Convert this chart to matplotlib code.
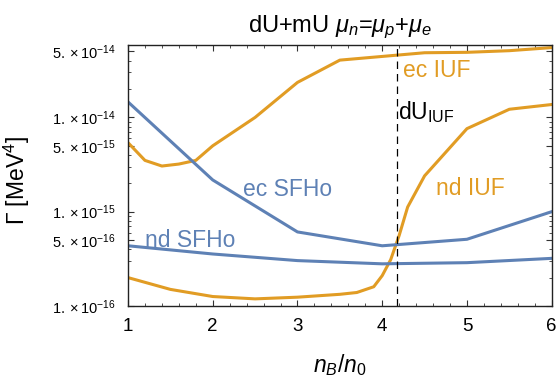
import matplotlib
matplotlib.use("Agg")
import matplotlib.pyplot as plt
import matplotlib.ticker as mticker

plt.rcParams["font.family"] = ["Liberation Sans", "DejaVu Sans"]
plt.rcParams["mathtext.fontset"] = "custom"
plt.rcParams["mathtext.rm"] = "Liberation Sans"
plt.rcParams["mathtext.it"] = "Liberation Sans:italic"
plt.rcParams["mathtext.bf"] = "Liberation Sans:bold"

BLUE = "#5E81B5"
ORANGE = "#E19C24"

# ec IUF
ec_iuf_x = [1, 1.2, 1.4, 1.6, 1.8, 2, 2.5, 3, 3.5, 4.5, 5, 5.5, 6]
ec_iuf_y = [5.4e-15, 3.5e-15, 3.05e-15, 3.2e-15, 3.5e-15, 5.0e-15, 1.0e-14,
            2.35e-14, 4.05e-14, 4.85e-14, 4.9e-14, 5.1e-14, 5.5e-14]
# nd IUF
nd_iuf_x = [1, 1.5, 2, 2.5, 3, 3.5, 3.7, 3.9, 4.0, 4.1, 4.2, 4.3, 4.5, 5, 5.5, 6]
nd_iuf_y = [2.0e-16, 1.5e-16, 1.26e-16, 1.19e-16, 1.24e-16, 1.33e-16, 1.39e-16,
            1.6e-16, 2.1e-16, 3.1e-16, 5.6e-16, 1.12e-15, 2.4e-15, 7.6e-15,
            1.22e-14, 1.37e-14]
# ec SFHo
ec_sfho_x = [1, 2, 3, 4, 5, 6]
ec_sfho_y = [1.46e-14, 2.17e-15, 6.1e-16, 4.35e-16, 5.1e-16, 1.0e-15]
# nd SFHo
nd_sfho_x = [1, 2, 3, 4, 5, 6]
nd_sfho_y = [4.35e-16, 3.56e-16, 3.03e-16, 2.8e-16, 2.88e-16, 3.2e-16]

du_iuf = 4.17
y_ticks = [1e-16, 5e-16, 1e-15, 5e-15, 1e-14, 5e-14]
y_tick_labels = [r"$1.\times10^{-16}$", r"$5.\times10^{-16}$", r"$1.\times10^{-15}$",
                 r"$5.\times10^{-15}$", r"$1.\times10^{-14}$", r"$5.\times10^{-14}$"]

fig = plt.figure(figsize=(5.58, 3.78), dpi=100)
ax = fig.add_axes([0.2294, 0.1905, 0.7593, 0.6912])

lw = 2.2
ax.plot(ec_iuf_x, ec_iuf_y, color=ORANGE, lw=lw)
ax.plot(nd_iuf_x, nd_iuf_y, color=ORANGE, lw=lw)
ax.plot(ec_sfho_x, ec_sfho_y, color=BLUE, lw=lw)
ax.plot(nd_sfho_x, nd_sfho_y, color=BLUE, lw=lw)
ax.axvline(du_iuf, color="black", lw=0.9, ls=(0, (6, 4)))

ax.set_yscale("log")
ax.set_xlim(1, 6)
ax.set_ylim(1e-16, 5.9e-14)

ax.yaxis.set_major_locator(mticker.FixedLocator(y_ticks))
ax.yaxis.set_major_formatter(mticker.FixedFormatter(y_tick_labels))
ax.yaxis.set_minor_locator(mticker.LogLocator(base=10, subs=[2, 3, 4, 6, 7, 8, 9]))
ax.yaxis.set_minor_formatter(mticker.NullFormatter())
ax.xaxis.set_major_locator(mticker.MultipleLocator(1))
ax.xaxis.set_minor_locator(mticker.MultipleLocator(0.2))

ax.tick_params(which="both", direction="in", top=True, right=True, color="#333333")
ax.tick_params(which="major", length=4, width=0.8)
ax.tick_params(which="minor", length=2.2, width=0.6)
ax.tick_params(axis="x", labelsize=13.5, pad=9)
ax.tick_params(axis="y", labelsize=10.5, pad=9)
for s in ax.spines.values():
    s.set_linewidth(1.0)
    s.set_color("#222222")

fs = 16.5
ax.text(4.245, 3.17e-14, "ec IUF", color=ORANGE, fontsize=fs, va="center")
ax.text(4.19, 1.15e-14, r"dU$_{\mathrm{IUF}}$", color="black", fontsize=fs, va="center")
ax.text(4.64, 1.77e-15, "nd IUF", color=ORANGE, fontsize=fs, va="center")
ax.text(2.357, 1.7e-15, "ec SFHo", color=BLUE, fontsize=fs, va="center")
ax.text(1.205, 5.0e-16, "nd SFHo", color=BLUE, fontsize=fs, va="center")

ax.set_title(r"dU+mU $\mu_n$=$\mu_p$+$\mu_e$", fontsize=17, pad=9)
ax.set_xlabel(r"$n_B/n_0$", fontsize=16.5, labelpad=12)
ax.set_ylabel(r"$\Gamma$ [MeV$^4$]", fontsize=16.5)
ax.yaxis.set_label_coords(-0.226, 0.48)

fig.savefig("out.png", dpi=100)
